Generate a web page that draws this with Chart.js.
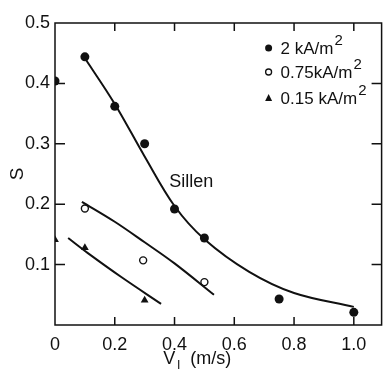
<!DOCTYPE html>
<html>
<head>
<meta charset="utf-8">
<script src="https://cdn.jsdelivr.net/npm/chart.js@4"></script>
<style>
  html, body { margin: 0; padding: 0; background: #fff; }
</style>
</head>
<body>
<canvas id="myChart" width="387" height="379"></canvas>
<script>
const xTicks = [0, 0.2, 0.4, 0.6, 0.8, 1.0];
const yTicks = [0.1, 0.2, 0.3, 0.4, 0.5];
const seriesNames = ["2 kA/m", "0.75kA/m", "0.15 kA/m"];

// measured points
const highX = [0, 0.1, 0.2, 0.3, 0.4, 0.5, 0.75, 1.0];
const highY = [0.404, 0.444, 0.362, 0.300, 0.192, 0.144, 0.043, 0.021];
const midX = [0.1, 0.295, 0.5];
const midY = [0.193, 0.107, 0.071];
const lowX = [0, 0.1, 0.3];
const lowY = [0.141, 0.128, 0.041];

// fitted curves
const sillenX = [0.093, 0.2, 0.3, 0.4, 0.5, 0.65, 0.8, 1.0];
const sillenY = [0.447, 0.366, 0.279, 0.197, 0.142, 0.088, 0.053, 0.030];
const midCurveX = [0.09, 0.2, 0.3, 0.4, 0.532];
const midCurveY = [0.204, 0.171, 0.137, 0.102, 0.050];
const lowCurveX = [0.044, 0.11, 0.223, 0.355];
const lowCurveY = [0.144, 0.119, 0.079, 0.035];

const FONT = "'Liberation Sans', Arial, sans-serif";

function pts(xs, ys) {
  return xs.map((x, i) => ({ x: x, y: ys[i] }));
}

function curve(xs, ys) {
  return {
    data: pts(xs, ys),
    showLine: true,
    borderColor: "#111",
    borderWidth: 2,
    pointRadius: 0,
    tension: 0.35,
    fill: false
  };
}

const pointClip = { left: 0, top: false, right: false, bottom: false };

// frame, inward ticks, legend and text labels
const decor = {
  id: "decor",
  afterDatasetsDraw(chart) {
    const ctx = chart.ctx;
    const a = chart.chartArea;
    const xs = chart.scales.x;
    const ys = chart.scales.y;
    ctx.save();
    ctx.strokeStyle = "#111";
    ctx.lineWidth = 1.5;
    ctx.strokeRect(a.left, a.top, a.right - a.left, a.bottom - a.top);

    ctx.beginPath();
    xTicks.forEach(v => {
      if (v === 0) return;
      const px = xs.getPixelForValue(v);
      ctx.moveTo(px, a.bottom);
      ctx.lineTo(px, a.bottom - 8);
      ctx.moveTo(px, a.top);
      ctx.lineTo(px, a.top + 8);
    });
    yTicks.forEach(v => {
      if (v === 0.5) return;
      const py = ys.getPixelForValue(v);
      ctx.moveTo(a.left, py);
      ctx.lineTo(a.left + 10, py);
      ctx.moveTo(a.right, py);
      ctx.lineTo(a.right - 10, py);
    });
    ctx.stroke();

    // legend
    ctx.fillStyle = "#111";
    ctx.textBaseline = "alphabetic";
    const lx = a.right - 113;
    const rows = [a.top + 25, a.top + 49, a.top + 75];
    seriesNames.forEach((name, i) => {
      const cy = rows[i];
      ctx.beginPath();
      if (i === 0) {
        ctx.arc(lx, cy, 3.5, 0, Math.PI * 2);
        ctx.fill();
      } else if (i === 1) {
        ctx.lineWidth = 1.3;
        ctx.arc(lx, cy, 3, 0, Math.PI * 2);
        ctx.stroke();
      } else {
        ctx.moveTo(lx, cy - 4);
        ctx.lineTo(lx + 3.5, cy + 3);
        ctx.lineTo(lx - 3.5, cy + 3);
        ctx.closePath();
        ctx.fill();
      }
      ctx.font = "17px " + FONT;
      ctx.textAlign = "left";
      const tx = lx + 12;
      ctx.fillText(name, tx, cy + 6);
      const w = ctx.measureText(name).width;
      ctx.font = "15px " + FONT;
      ctx.fillText("2", tx + w + 1, cy - 3);
    });

    // curve label
    ctx.font = "18px " + FONT;
    ctx.textAlign = "left";
    ctx.textBaseline = "middle";
    ctx.fillText("Sillen", xs.getPixelForValue(0.382), ys.getPixelForValue(0.237));

    // x axis title with subscript
    const cx = (a.left + a.right) / 2;
    const ty = chart.height - 15;
    ctx.textBaseline = "alphabetic";
    ctx.font = "18px " + FONT;
    ctx.fillText("V", cx - 55, ty);
    ctx.font = "13px " + FONT;
    ctx.fillText("l", cx - 41, ty + 5);
    ctx.font = "18px " + FONT;
    ctx.fillText("(m/s)", cx - 28, ty);
    ctx.restore();
  }
};

const ctx = document.getElementById("myChart").getContext("2d");

new Chart(ctx, {
  type: "scatter",
  data: {
    datasets: [
      curve(sillenX, sillenY),
      curve(midCurveX, midCurveY),
      curve(lowCurveX, lowCurveY),
      {
        data: pts(highX, highY),
        pointStyle: "circle",
        pointRadius: 4.5,
        backgroundColor: "#111",
        borderColor: "#111",
        borderWidth: 0,
        clip: pointClip
      },
      {
        data: pts(midX, midY),
        pointStyle: "circle",
        pointRadius: 3.5,
        backgroundColor: "#fff",
        borderColor: "#111",
        borderWidth: 1.4,
        clip: pointClip
      },
      {
        data: pts(lowX, lowY),
        pointStyle: "triangle",
        pointRadius: 4.5,
        backgroundColor: "#111",
        borderColor: "#111",
        borderWidth: 0,
        clip: pointClip
      }
    ]
  },
  options: {
    responsive: false,
    animation: false,
    layout: { padding: { top: 23, right: 3, left: 0, bottom: 0 } },
    plugins: {
      legend: { display: false },
      tooltip: { enabled: false }
    },
    scales: {
      x: {
        type: "linear",
        min: 0,
        max: 1.093,
        afterBuildTicks: s => { s.ticks = xTicks.map(v => ({ value: v })); },
        afterFit: s => { s.height = 54; },
        grid: { display: false, drawTicks: false },
        border: { display: false },
        ticks: {
          padding: 9,
          color: "#111",
          font: { family: FONT, size: 18 },
          callback: v => (v === 0 ? "0" : v.toFixed(1))
        }
      },
      y: {
        type: "linear",
        min: 0,
        max: 0.5,
        afterBuildTicks: s => { s.ticks = yTicks.map(v => ({ value: v })); },
        afterFit: s => { s.width = 55; },
        grid: { display: false, drawTicks: false },
        border: { display: false },
        title: {
          display: true,
          text: "S",
          color: "#111",
          font: { family: FONT, size: 19 },
          padding: { top: 6, bottom: 0 }
        },
        ticks: {
          padding: 5,
          color: "#111",
          font: { family: FONT, size: 18 },
          callback: v => v.toFixed(1)
        }
      }
    }
  },
  plugins: [decor]
});
</script>
</body>
</html>
